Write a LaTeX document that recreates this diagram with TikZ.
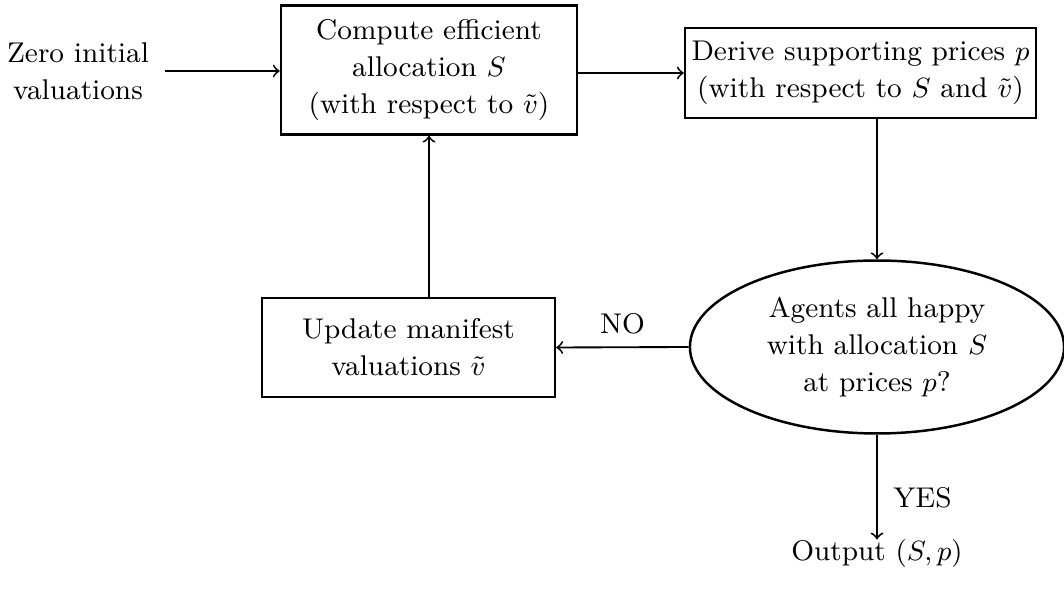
\documentclass[tikz,border=0pt]{standalone}
\usetikzlibrary{shapes.geometric}
\begin{document}
\begin{tikzpicture}[x=0.3226pt,y=-0.3226pt,
  font=\fontsize{9.2}{12}\selectfont,
  boxnode/.style={draw,line width=0.8pt,inner sep=0pt,align=center},
  ellnode/.style={draw,ellipse,line width=0.8pt,inner sep=0pt,align=center},
  txtnode/.style={inner sep=0pt,align=center},
  conn/.style={->,line width=0.6pt}]
\useasboundingbox (0,0) rectangle (1064,589);
\node[txtnode] (zero) at (78,71) {Zero initial\\valuations};
\node[boxnode,minimum width=95.5pt,minimum height=41.6pt] (comp) at (429,70) {Compute efficient\\allocation $S$\\(with respect to $\tilde v$)};
\node[boxnode,minimum width=113.2pt,minimum height=29pt] (deriv) at (860.5,73) {Derive supporting prices $p$\\(with respect to $S$ and $\tilde v$)};
\node[ellnode,minimum width=120.7pt,minimum height=55.8pt] (happy) at (877,347) {Agents all happy\\with allocation $S$\\at prices $p$?};
\node[boxnode,minimum width=94.5pt,minimum height=31.9pt] (upd) at (408.5,347.5) {Update manifest\\valuations $\tilde v$};
\node[txtnode,anchor=base] (out) at (877,561) {Output $(S,p)$};
\coordinate (zeroend) at (165,71);
\draw[conn] (zeroend) -- (comp.west |- zeroend);
\draw[conn] (comp.east |- deriv) -- (deriv.west);
\draw[conn] (deriv.south -| happy.north) -- (happy.north);
\draw[conn] (happy.west) -- node[above=4pt,txtnode] {NO} (upd.east);
\draw[conn] (upd.north -| comp.south) -- (comp.south);
\draw[conn] (happy.south) -- node[pos=0.6,right=5pt,txtnode] {YES} (out.north);
\end{tikzpicture}
\end{document}
